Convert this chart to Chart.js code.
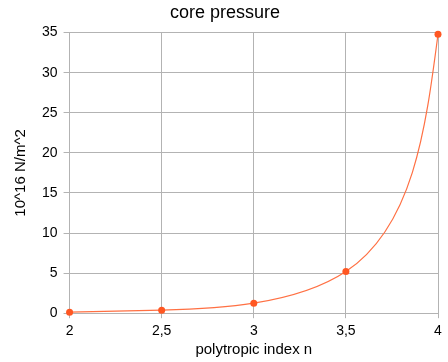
<!DOCTYPE html>
<html>
<head>
<meta charset="utf-8">
<script src="https://cdn.jsdelivr.net/npm/chart.js@4/dist/chart.umd.min.js"></script>
<style>
  html, body { margin: 0; padding: 0; background: #fff; }
  #wrap { width: 448px; height: 362px; }
</style>
</head>
<body>
<div id="wrap"><canvas id="c" width="448" height="362"></canvas></div>
<script>
// polytropic index n vs core pressure (10^16 N/m^2)
var indexN = [2, 2.5, 3, 3.5, 4];
var pressure = [0.13, 0.38, 1.25, 5.2, 34.8];
var yTicks = [0, 5, 10, 15, 20, 25, 30, 35];

var points = indexN.map(function (n, i) { return { x: n, y: pressure[i] }; });

// natural parametric cubic spline (chord length) -> bezier control points
// of the line element, so the smoothing looks like the office-suite one
function natural(t, v) {
    var n = v.length - 1, M = new Array(n + 1).fill(0);
    if (n < 2) return M;
    var a = [], b = [], c = [], d = [];
    for (var i = 1; i < n; i++) {
        var h0 = t[i] - t[i - 1], h1 = t[i + 1] - t[i];
        a.push(h0); b.push(2 * (h0 + h1)); c.push(h1);
        d.push(6 * ((v[i + 1] - v[i]) / h1 - (v[i] - v[i - 1]) / h0));
    }
    var m = b.length;
    for (var k = 1; k < m; k++) {
        var w = a[k] / b[k - 1];
        b[k] -= w * c[k - 1];
        d[k] -= w * d[k - 1];
    }
    M[m] = d[m - 1] / b[m - 1];
    for (var j = m - 2; j >= 0; j--) M[j + 1] = (d[j] - c[j] * M[j + 2]) / b[j];
    return M;
}

var splinePlugin = {
    id: 'spline',
    beforeDatasetDraw: function (chart, args) {
        var meta = args.meta, pts = meta.data, line = meta.dataset;
        if (!line || pts.length < 3) return;
        line.updateControlPoints(chart.chartArea, 'x');
        var t = [0];
        for (var i = 1; i < pts.length; i++) {
            t.push(t[i - 1] + Math.hypot(pts[i].x - pts[i - 1].x, pts[i].y - pts[i - 1].y));
        }
        var xs = pts.map(function (p) { return p.x; });
        var ys = pts.map(function (p) { return p.y; });
        var Mx = natural(t, xs), My = natural(t, ys);
        var n = pts.length - 1;
        function deriv(v, M, i) {
            if (i < n) {
                var h = t[i + 1] - t[i];
                return (v[i + 1] - v[i]) / h - h * (2 * M[i] + M[i + 1]) / 6;
            }
            var hl = t[n] - t[n - 1];
            return (v[n] - v[n - 1]) / hl + hl * (M[n - 1] + 2 * M[n]) / 6;
        }
        for (var s = 0; s <= n; s++) {
            var dx = deriv(xs, Mx, s), dy = deriv(ys, My, s);
            if (s > 0) {
                var hp = (t[s] - t[s - 1]) / 3;
                pts[s].cp1x = xs[s] - hp * dx;
                pts[s].cp1y = ys[s] - hp * dy;
            }
            if (s < n) {
                var hn = (t[s + 1] - t[s]) / 3;
                pts[s].cp2x = xs[s] + hn * dx;
                pts[s].cp2y = ys[s] + hn * dy;
            }
        }
        line._path = undefined;
    }
};

var ctx = document.getElementById('c').getContext('2d');
var chart = new Chart(ctx, {
    type: 'line',
    data: {
        datasets: [{
            data: points,
            borderColor: '#ff7043',
            backgroundColor: '#ff5722',
            borderWidth: 1.2,
            pointRadius: 3.5,
            pointBorderWidth: 0,
            tension: 0.4,
            fill: false,
            clip: false
        }]
    },
    plugins: [splinePlugin],
    options: {
        responsive: false,
        animation: false,
        layout: { padding: { left: 12, right: 10, top: 0, bottom: 1 } },
        plugins: {
            legend: { display: false },
            tooltip: { enabled: false },
            title: {
                display: true,
                text: 'core pressure',
                color: '#000',
                font: { family: 'Liberation Sans', size: 18, weight: 'normal' },
                padding: { top: 2, bottom: 9 }
            }
        },
        scales: {
            x: {
                type: 'linear',
                min: 2,
                max: 4,
                ticks: {
                    stepSize: 0.5,
                    color: '#000',
                    font: { family: 'Liberation Sans', size: 14 },
                    padding: 5,
                    maxRotation: 0,
                    callback: function (v) { return String(v).replace('.', ','); }
                },
                grid: { color: '#b3b3b3', tickLength: 5 },
                border: { color: '#b3b3b3' },
                title: {
                    display: true,
                    text: 'polytropic index n',
                    color: '#000',
                    font: { family: 'Liberation Sans', size: 15 },
                    padding: { top: -4, bottom: 2 }
                }
            },
            y: {
                min: 0,
                max: 35,
                afterBuildTicks: function (axis) {
                    axis.ticks = yTicks.map(function (v) { return { value: v }; });
                },
                ticks: {
                    color: '#000',
                    font: { family: 'Liberation Sans', size: 14 },
                    padding: 6
                },
                grid: { color: '#b3b3b3', tickLength: 6 },
                border: { color: '#b3b3b3' },
                title: {
                    display: true,
                    text: '10^16 N/m^2',
                    color: '#000',
                    font: { family: 'Liberation Sans', size: 15 },
                    padding: { top: 0, bottom: 6 }
                }
            }
        }
    }
});
</script>
</body>
</html>
